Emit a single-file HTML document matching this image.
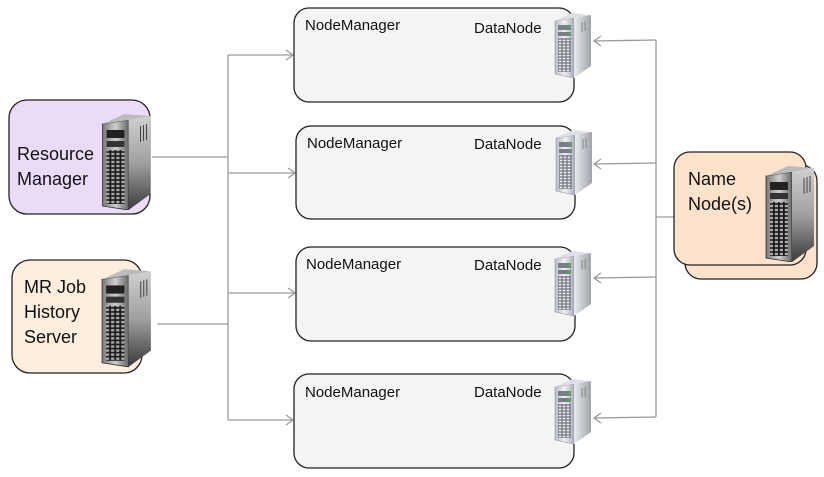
<!DOCTYPE html>
<html><head><meta charset="utf-8"><style>
html,body{margin:0;padding:0;background:#fff;}
svg{display:block;}
text{font-family:"Liberation Sans",sans-serif;fill:#111;}
</style></head><body>
<svg width="824" height="477" viewBox="0 0 824 477" xmlns="http://www.w3.org/2000/svg">
<defs>
<linearGradient id="fr" x1="0" x2="1"><stop offset="0" stop-color="#777"/><stop offset="0.5" stop-color="#d0d0d0"/><stop offset="1" stop-color="#666"/></linearGradient>
<linearGradient id="sd" x1="0" y1="0" x2="0" y2="1"><stop offset="0" stop-color="#d0d0d0"/><stop offset="0.5" stop-color="#a0a0a0"/><stop offset="1" stop-color="#3a3a3a"/></linearGradient>
<linearGradient id="frs" x1="0" x2="1"><stop offset="0" stop-color="#b8bcc4"/><stop offset="0.5" stop-color="#eef0f3"/><stop offset="1" stop-color="#a8acb4"/></linearGradient>
<linearGradient id="sds" x1="0" x2="1"><stop offset="0" stop-color="#e8eaee"/><stop offset="1" stop-color="#a0a4aa"/></linearGradient>
<pattern id="grid" width="5" height="4" patternUnits="userSpaceOnUse"><rect width="5" height="4" fill="#1a1a1a"/><rect x="0.8" y="0.8" width="3.2" height="2.4" fill="#aaa"/></pattern>
<pattern id="grids" width="4" height="3" patternUnits="userSpaceOnUse"><rect width="4" height="3" fill="#7a7e86"/><rect x="0.7" y="0.7" width="2.6" height="1.6" fill="#f0f0f0"/></pattern>
<symbol id="big" viewBox="0 0 56 98">
<polygon points="2,12 28,8 28,98 2,94" fill="url(#fr)" stroke="#333" stroke-width="0.8"/>
<polygon points="2,12 24,2 50,4 28,8" fill="#bbb"/>
<polygon points="28,8 50,4 50,82 28,98" fill="url(#sd)"/>
<rect x="6" y="18" width="18" height="8" fill="#222"/>
<rect x="6" y="29" width="18" height="6" fill="#333"/>
<rect x="6" y="38" width="18" height="54" fill="url(#grid)"/>
<line x1="40" y1="14" x2="40" y2="30" stroke="#444" stroke-width="1"/><line x1="43" y1="13" x2="43" y2="29" stroke="#444" stroke-width="1"/><line x1="46" y1="12" x2="46" y2="28" stroke="#444" stroke-width="1"/>
</symbol>
<symbol id="small" viewBox="0 0 42 66">
<polygon points="1,9 20,6 20,66 1,62" fill="url(#frs)" stroke="#8a8e96" stroke-width="0.5"/>
<polygon points="1,9 18,1 37,3 20,6" fill="#dcdfe4"/>
<polygon points="20,6 37,3 37,54 20,66" fill="url(#sds)"/>
<rect x="4" y="13" width="13" height="5" fill="#7a7e86"/>
<rect x="4" y="20" width="13" height="4" fill="#7a7e86"/>
<circle cx="15" cy="15" r="1" fill="#3c3"/><circle cx="15" cy="22" r="1" fill="#3c3"/>
<rect x="4" y="26" width="13" height="34" fill="url(#grids)"/>
<line x1="28" y1="10" x2="28" y2="20" stroke="#888"/><line x1="31" y1="9" x2="31" y2="19" stroke="#888"/>
</symbol>
</defs>

<g stroke="#9a9a9a" stroke-width="1.3" fill="none">
<line x1="228" y1="55" x2="228" y2="420"/>
<line x1="152" y1="157" x2="228" y2="157"/>
<line x1="157" y1="324" x2="228" y2="324"/>
<line x1="228" y1="55" x2="293" y2="55"/><polyline points="286,50 293,55 286,60"/>
<line x1="228" y1="173" x2="295" y2="173"/><polyline points="288,168 295,173 288,178"/>
<line x1="228" y1="293" x2="295" y2="293"/><polyline points="288,288 295,293 288,298"/>
<line x1="228" y1="420" x2="293" y2="420"/><polyline points="286,415 293,420 286,425"/>
<line x1="656" y1="40" x2="656" y2="417"/>
<line x1="656" y1="217" x2="674" y2="217"/>
<line x1="656" y1="40" x2="594" y2="41"/><polyline points="601,36 594,41 601,46"/>
<line x1="656" y1="163" x2="594" y2="164"/><polyline points="601,159 594,164 601,169"/>
<line x1="656" y1="277" x2="594" y2="278"/><polyline points="601,273 594,278 601,283"/>
<line x1="656" y1="417" x2="594" y2="418"/><polyline points="601,413 594,418 601,423"/>
</g>

<g fill="#f4f4f4" stroke="#222" stroke-width="1.3">
<rect x="294" y="8" width="280" height="94" rx="15"/>
<rect x="296" y="126" width="279" height="93" rx="15"/>
<rect x="296" y="247" width="279" height="94" rx="15"/>
<rect x="294" y="374" width="280" height="94" rx="15"/>
</g>
<g font-size="15">
<text x="305" y="30">NodeManager</text><text x="474" y="33">DataNode</text>
<text x="307" y="148">NodeManager</text><text x="474" y="149">DataNode</text>
<text x="306" y="269">NodeManager</text><text x="474" y="270">DataNode</text>
<text x="305" y="397">NodeManager</text><text x="474" y="397">DataNode</text>
</g>
<use href="#small" x="554" y="11" width="42" height="68"/>
<use href="#small" x="555" y="128" width="42" height="68"/>
<use href="#small" x="554" y="249" width="42" height="68"/>
<use href="#small" x="554" y="377" width="42" height="68"/>

<rect x="9" y="100" width="141" height="114" rx="18" fill="#eadcf8" stroke="#222" stroke-width="1.3"/>
<text x="17" y="160" font-size="18">Resource</text>
<text x="17" y="185" font-size="18">Manager</text>
<use href="#big" x="100" y="112" width="57" height="98"/>

<rect x="12" y="260" width="130" height="113" rx="18" fill="#fdeedd" stroke="#222" stroke-width="1.3"/>
<text x="24" y="293" font-size="18">MR Job</text>
<text x="24" y="318" font-size="18">History</text>
<text x="24" y="343" font-size="18">Server</text>
<use href="#big" x="100" y="265" width="57" height="104"/>

<rect x="685" y="165" width="132" height="114" rx="16" fill="#fde3cc" stroke="#222" stroke-width="1.3"/>
<rect x="674" y="152" width="132" height="113" rx="16" fill="#fde3cc" stroke="#222" stroke-width="1.3"/>
<text x="688" y="185" font-size="18">Name</text>
<text x="688" y="210" font-size="18">Node(s)</text>
<use href="#big" x="764" y="164" width="56" height="98"/>
</svg>
</body></html>
